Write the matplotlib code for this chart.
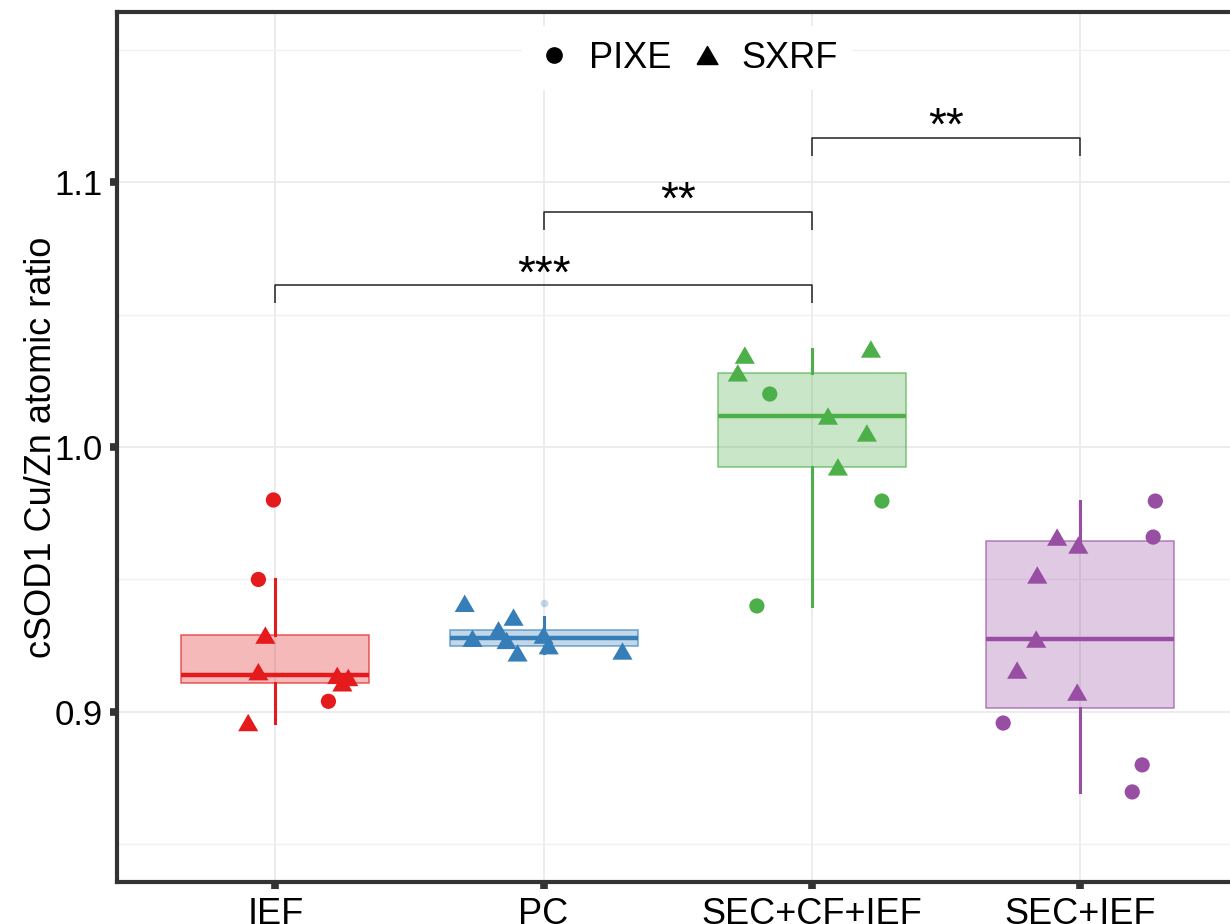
import matplotlib

matplotlib.use("Agg")
import matplotlib.pyplot as plt
import numpy as np
from matplotlib.lines import Line2D

plt.rcParams.update({
    "font.family": ["Liberation Sans", "DejaVu Sans"],
    "axes.edgecolor": "#333333",
    "xtick.color": "#333333",
    "ytick.color": "#333333",
})

# ---- data ----
groups = ["IEF", "PC", "SEC+CF+IEF", "SEC+IEF"]
colors = ["#E41A1C", "#377EB8", "#4DAF4A", "#984EA3"]

ief_ratio = [0.980, 0.950, 0.929, 0.9152, 0.9138, 0.9130, 0.9110, 0.904, 0.896]
ief_method = ["PIXE", "PIXE", "SXRF", "SXRF", "SXRF", "SXRF", "SXRF", "PIXE", "SXRF"]
ief_jitter = [-0.007, -0.063, -0.037, -0.063, 0.231, 0.272, 0.250, 0.198, -0.101]

pc_ratio = [0.941, 0.9278, 0.9358, 0.931, 0.927, 0.9223, 0.929, 0.925, 0.923]
pc_method = ["SXRF"] * 9
pc_jitter = [-0.294, -0.265, -0.112, -0.168, -0.138, -0.097, 0.0, 0.019, 0.294]

scf_ratio = [1.0347, 1.028, 1.020, 1.0117, 1.0053, 0.9925, 0.9796, 0.940, 1.037]
scf_method = ["SXRF", "SXRF", "PIXE", "SXRF", "SXRF", "SXRF", "PIXE", "PIXE", "SXRF"]
scf_jitter = [-0.250, -0.276, -0.157, 0.060, 0.205, 0.097, 0.261, -0.205, 0.220]

sec_ratio = [0.9796, 0.966, 0.966, 0.963, 0.9517, 0.9275, 0.9158, 0.9075,
             0.8958, 0.880, 0.8698]
sec_method = ["PIXE", "PIXE", "SXRF", "SXRF", "SXRF", "SXRF", "SXRF", "SXRF",
              "PIXE", "PIXE", "PIXE"]
sec_jitter = [0.280, 0.272, -0.086, -0.007, -0.160, -0.164, -0.235, -0.011,
              -0.287, 0.231, 0.194]

ratios = [ief_ratio, pc_ratio, scf_ratio, sec_ratio]
methods = [ief_method, pc_method, scf_method, sec_method]
jitters = [ief_jitter, pc_jitter, scf_jitter, sec_jitter]

# significance brackets: (group a, group b, height, label)
bracket_pairs = [(1, 3), (2, 3), (3, 4)]
bracket_heights = [1.0611, 1.0887, 1.1166]
bracket_labels = ["***", "**", "**"]

# equilateral-ish triangle marker like ggplot shape 17
TRI = [(-1, -0.866), (1, -0.866), (0, 0.866), (-1, -0.866)]
markers = {"PIXE": "o", "SXRF": TRI}
sizes = {"PIXE": 120, "SXRF": 210}

fig = plt.figure(figsize=(12.3, 9.24), dpi=100)
ax = fig.add_axes([117 / 1230, 1 - 882 / 924, 4.19 * 268.3 / 1230, 870 / 924])

positions = np.arange(1, len(groups) + 1)
bp = ax.boxplot(ratios, positions=positions, widths=0.7, patch_artist=True,
                whis=1.5, showcaps=False, manage_ticks=False, zorder=2)
for i, c in enumerate(colors):
    box = bp["boxes"][i]
    box.set_facecolor(matplotlib.colors.to_rgba(c, 0.3))
    box.set_edgecolor(matplotlib.colors.to_rgba(c, 0.7))
    box.set_linewidth(1.1)
    bp["medians"][i].set(color=c, linewidth=3.2)
    for w in bp["whiskers"][2 * i:2 * i + 2]:
        w.set(color=c, linewidth=2.2)
    bp["fliers"][i].set(marker="o", markersize=5.5, markerfacecolor=c,
                        markeredgecolor="none", alpha=0.3)

for i, c in enumerate(colors):
    x = positions[i] + np.array(jitters[i])
    y = np.array(ratios[i])
    m = np.array(methods[i])
    for key in ["PIXE", "SXRF"]:
        sel = m == key
        ax.scatter(x[sel], y[sel], marker=markers[key], s=sizes[key],
                   color=c, edgecolors="none", zorder=4)

drop = 0.0068
for (a, b), h, lab in zip(bracket_pairs, bracket_heights, bracket_labels):
    ax.plot([a, a, b, b], [h - drop, h, h, h - drop], color="#222222",
            linewidth=1.1, zorder=5, solid_capstyle="butt")
    ax.annotate(lab, xy=((a + b) / 2, h), xytext=(0, -1.5),
                textcoords="offset points", ha="center", va="baseline",
                fontsize=33, color="black", zorder=5)

ax.set_xlim(0.41, 4.6)
ax.set_ylim(0.8358, 1.1642)
ax.set_xticks(positions)
ax.set_xticklabels(groups)
ax.set_yticks([0.9, 1.0, 1.1])
ax.set_yticklabels(["0.9", "1.0", "1.1"])
ax.set_yticks([0.85, 0.95, 1.05, 1.15], minor=True)

ax.grid(True, which="major", color="#EBEBEB", linewidth=1.3, zorder=0)
ax.grid(True, which="minor", axis="y", color="#F0F0F0", linewidth=1.0, zorder=0)
ax.set_axisbelow(True)

for s in ax.spines.values():
    s.set_linewidth(3.0)
    s.set_color("#333333")

ax.tick_params(axis="both", which="major", length=5, width=5.5, color="#333333")
ax.tick_params(axis="y", which="major", labelsize=25, pad=5)
ax.tick_params(axis="x", which="major", labelsize=26, pad=6)
ax.tick_params(which="minor", length=0)
for t in ax.get_xticklabels() + ax.get_yticklabels():
    t.set_color("black")

ax.set_ylabel("cSOD1 Cu/Zn atomic ratio", fontsize=26, color="black")
ax.yaxis.set_label_coords(-0.052, 0.5)

handles = [
    Line2D([], [], linestyle="none", marker="o", markersize=11, color="black"),
    Line2D([], [], linestyle="none", marker=TRI, markersize=15, color="black"),
]
leg = ax.legend(handles, ["PIXE", "SXRF"], loc="center",
                bbox_to_anchor=(0.507, 0.947), ncol=2, fontsize=26,
                frameon=True, handlelength=1.0, handletextpad=0.45,
                columnspacing=0.5, borderpad=0.4, fancybox=False)
leg.get_frame().set_facecolor("white")
leg.get_frame().set_edgecolor("none")
leg.get_frame().set_alpha(1)
leg.set_zorder(6)

fig.savefig("out.png", dpi=100)
